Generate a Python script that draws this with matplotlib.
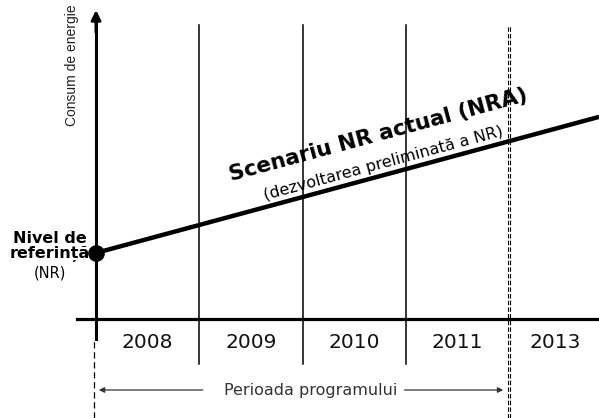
import numpy as np
import matplotlib
matplotlib.use("Agg")
import matplotlib.pyplot as plt

# column boundaries (in "year column" units), year labels
col_edges = [0, 1, 2, 3]          # solid separators (0 = y axis)
prog_end = 4                      # dashed line: end of programme period
years = ["2008", "2009", "2010", "2011", "2013"]

# baseline (NR) and actual scenario (NRA) line, energy units
nr_level = 1.0
nra_x = [0, 4.87]
nra_y = [1.0, 3.06]

xmin, xmax = -0.93, 4.87
ymin, ymax = -1.5, 4.83

fig = plt.figure(figsize=(5.99, 4.18), dpi=100)
ax = fig.add_axes([0, 0, 1, 1])
ax.set_xlim(xmin, xmax)
ax.set_ylim(ymin, ymax)
ax.axis("off")

# vertical separators
for x in col_edges[1:]:
    ax.plot([x, x], [-0.68, 4.45], color="black", lw=1.1)
# dashed programme end line (double)
for dx in (-0.012, 0.012):
    ax.plot([prog_end + dx, prog_end + dx], [ymin, 4.45], color="black",
            lw=0.8, ls=(0, (4, 2)))

# y axis with arrow
ax.plot([0, 0], [-0.3, 4.5], color="black", lw=2.2)
ax.annotate("", xy=(0, 4.72), xytext=(0, 4.3),
            arrowprops=dict(arrowstyle="-|>", color="black", lw=2.2,
                            mutation_scale=14))
ax.plot([-0.02, -0.02], [ymin, -0.3], color="black", lw=0.9, ls=(0, (5, 3)))

# x axis
ax.plot([-0.18, xmax], [0, 0], color="black", lw=2.3)

# year labels
centers = [(a + b) / 2 for a, b in zip(col_edges + [prog_end], col_edges[1:] + [prog_end, xmax])]
centers[-1] = 4.45
for c, y in zip(centers, years):
    ax.text(c, -0.35, y, ha="center", va="center", fontsize=14.5,
            family="DejaVu Sans", color="#111111")

# NRA line and NR point
ax.plot(nra_x, nra_y, color="black", lw=3.2, solid_capstyle="butt")
ax.plot([0], [nr_level], "o", color="black", ms=11)

# rotation following the line on screen
p0 = ax.transData.transform((nra_x[0], nra_y[0]))
p1 = ax.transData.transform((nra_x[1], nra_y[1]))
ang = np.degrees(np.arctan2(p1[1] - p0[1], p1[0] - p0[0]))

ax.text(2.73, 2.78, "Scenariu NR actual (NRA)", rotation=ang,
        rotation_mode="anchor", ha="center", va="center",
        fontsize=15.5, fontweight="bold", family="DejaVu Sans")
ax.text(2.78, 2.36, "(dezvoltarea preliminată a NR)", rotation=ang,
        rotation_mode="anchor", ha="center", va="center",
        fontsize=11.5, family="DejaVu Sans")

# reference level label
ax.text(-0.45, 1.09, "Nivel de\nreferință", ha="center", va="center",
        fontsize=11.5, fontweight="bold", family="DejaVu Sans", linespacing=1.0)
ax.text(-0.45, 0.70, "(NR)", ha="center", va="center",
        fontsize=10.5, family="DejaVu Sans")

# y axis label
ax.text(-0.23, 3.85, "Consum de energie", rotation=90, ha="center",
        va="center", fontsize=10, family="Liberation Sans", color="#222222")

# programme period arrow
py = -1.076
ax.annotate("", xy=(0, py), xytext=(1.06, py),
            arrowprops=dict(arrowstyle="-|>", color="#333333", lw=0.9,
                            mutation_scale=8))
ax.annotate("", xy=(prog_end - 0.03, py), xytext=(2.96, py),
            arrowprops=dict(arrowstyle="-|>", color="#333333", lw=0.9,
                            mutation_scale=8))
ax.text(2.08, py, "Perioada programului", ha="center", va="center",
        fontsize=11.5, family="DejaVu Sans", color="#333333")

fig.savefig("out.png", dpi=100)
